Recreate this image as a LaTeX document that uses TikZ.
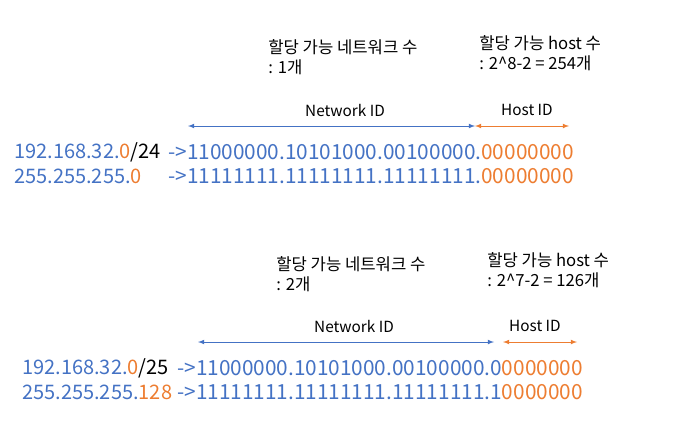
\documentclass[tikz,border=0pt]{standalone}
\usepackage{fontspec}
\setmainfont{Noto Sans CJK KR}
\usetikzlibrary{arrows.meta,positioning}
\definecolor{ipblue}{RGB}{68,114,196}
\definecolor{iporange}{RGB}{237,125,49}
\tikzset{>=latex}
\tikzset{
  lbl/.style={inner sep=0pt, anchor=west, align=left, font=\fontsize{12.5}{15}\selectfont},
  idlbl/.style={inner sep=0pt, font=\fontsize{11.5}{13}\selectfont},
  addr/.style={inner sep=0pt, anchor=west, text=ipblue, font=\fontsize{15}{17}\selectfont},
  binrow/.style={addr, font=\fontsize{15.6}{17}\selectfont},
  netarrow/.style={<->, ipblue, line width=0.6pt},
  hostarrow/.style={<->, iporange, line width=0.6pt}
}
\newcommand{\hp}[1]{\textcolor{iporange}{#1}}
\begin{document}
\begin{tikzpicture}[x=0.75pt,y=-0.75pt]
\useasboundingbox (0,0) rectangle (680,429);
% /24
\node[lbl] (nets1) at (268,57) {할당 가능 네트워크 수\\: 1개};
\node[lbl] (hosts1) at (479,53) {할당 가능 host 수\\: 2\^{}8-2 = 254개};
\node[idlbl] (netid1) at (345,110) {Network ID};
\node[idlbl] (hostid1) at (527,110) {Host ID};
\coordinate (na1) at (188,126);
\coordinate (nb1) at (475,126);
\coordinate (hb1) at (569,126);
\draw[netarrow] (na1) -- (nb1);
\draw[hostarrow] (nb1) -- (hb1);
\node[addr] (ip1) at (14,152) {192.168.32.\hp{0}\textcolor{black}{/24}};
\node[binrow] (bin1) at (168,152) {->11000000.10101000.00100000.\hp{00000000}};
\node[addr] (mask1) at (14,176) {255.255.255.\hp{0}};
\node[binrow] (mbin1) at (168,176) {->11111111.11111111.11111111.\hp{00000000}};
% /25
\node[lbl] (nets2) at (276,274) {할당 가능 네트워크 수\\: 2개};
\node[lbl] (hosts2) at (487,270) {할당 가능 host 수\\: 2\^{}7-2 = 126개};
\node[idlbl] (netid2) at (354,326) {Network ID};
\node[idlbl] (hostid2) at (535,326) {Host ID};
\coordinate (na2) at (198,342);
\coordinate (nb2) at (494,342);
\coordinate (ha2) at (503,342);
\coordinate (hb2) at (577,342);
\draw[netarrow] (na2) -- (nb2);
\draw[hostarrow] (ha2) -- (hb2);
\node[addr] (ip2) at (22,368) {192.168.32.\hp{0}\textcolor{black}{/25}};
\node[binrow] (bin2) at (177,368) {->11000000.10101000.00100000.0\hp{0000000}};
\node[addr] (mask2) at (22,392) {255.255.255.\hp{128}};
\node[binrow] (mbin2) at (177,392) {->11111111.11111111.11111111.1\hp{0000000}};
\end{tikzpicture}
\end{document}
